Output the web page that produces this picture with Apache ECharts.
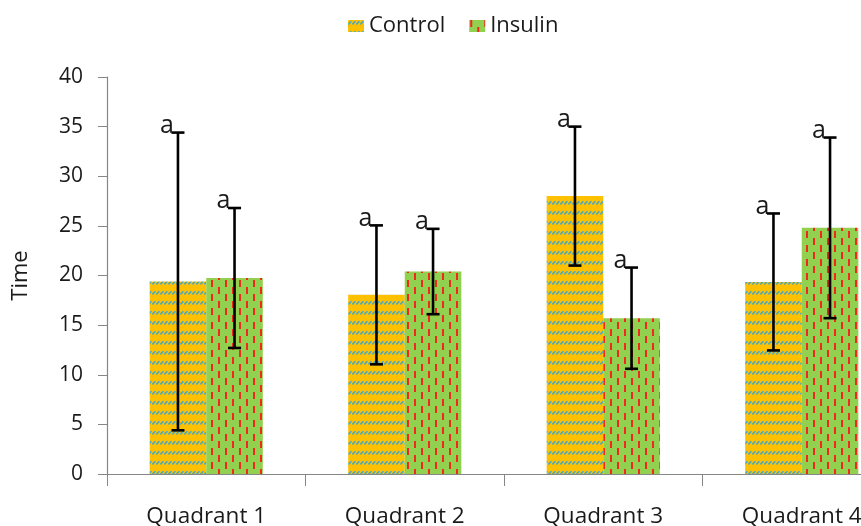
<!DOCTYPE html>
<html>
<head>
<meta charset="utf-8">
<script src="https://cdn.jsdelivr.net/npm/echarts@6/dist/echarts.min.js"></script>
<style>
html,body{margin:0;padding:0;background:#fff;overflow:hidden;}
#chart{width:861px;height:526px;}
</style>
</head>
<body>
<div id="chart"></div>
<script>
// ---- data ----
var categories = ['Quadrant 1', 'Quadrant 2', 'Quadrant 3', 'Quadrant 4'];
var controlValues = [19.4, 18.05, 28.0, 19.35];
var insulinValues = [19.75, 20.4, 15.7, 24.8];
var controlErrors = [15.0, 7.0, 7.0, 6.9];
var insulinErrors = [7.05, 4.3, 5.1, 9.1];
var controlLetters = ['a', 'a', 'a', 'a'];
var insulinLetters = ['a', 'a', 'a', 'a'];
var yTicks = [0, 5, 10, 15, 20, 25, 30, 35, 40];

var FONT = '"Open Sans", "DejaVu Sans", sans-serif';

function controlPattern() {
  var c = document.createElement('canvas');
  c.width = 4; c.height = 10;
  var g = c.getContext('2d');
  g.fillStyle = '#FFC000';
  g.fillRect(0, 0, 4, 10);
  g.strokeStyle = '#45A8C8';
  g.lineWidth = 1.6;
  g.beginPath();
  g.moveTo(0.3, 4.4);
  g.lineTo(3.4, 1.3);
  g.stroke();
  return c;
}
function insulinPattern() {
  var c = document.createElement('canvas');
  c.width = 14; c.height = 14;
  var g = c.getContext('2d');
  g.fillStyle = '#92D050';
  g.fillRect(0, 0, 14, 14);
  g.fillStyle = '#F0281E';
  g.fillRect(1, 0, 2, 7);
  g.fillRect(8, 7, 2, 7);
  return c;
}

var BAR_FRAC = 0.285;

function errSeries(name, means, errs, letters, offsetFrac) {
  return {
    type: 'custom',
    name: name + ' err',
    z: 10,
    silent: true,
    clip: false,
    data: means.map(function (m, i) { return [i, m, errs[i]]; }),
    renderItem: function (params, api) {
      var i = api.value(0), m = api.value(1), e = api.value(2);
      var c = api.coord([i, m]);
      var w = api.size([1, 0])[0];
      var x = c[0] + offsetFrac * w;
      var top = api.coord([i, m + e])[1];
      var bot = api.coord([i, m - e])[1];
      var cap = 6.5;
      var ls = { stroke: '#000', lineWidth: 2.6 };
      return {
        type: 'group',
        children: [
          { type: 'line', shape: { x1: x, y1: top, x2: x, y2: bot }, style: ls },
          { type: 'line', shape: { x1: x - cap, y1: top, x2: x + cap, y2: top }, style: ls },
          { type: 'line', shape: { x1: x - cap, y1: bot, x2: x + cap, y2: bot }, style: ls },
          { type: 'text', style: {
              text: letters[params.dataIndex], x: x - 11, y: top - 7,
              align: 'center', verticalAlign: 'middle',
              font: '25px ' + FONT, fill: '#1a1a1a' } }
        ]
      };
    }
  };
}

var chart = echarts.init(document.getElementById('chart'));
chart.setOption({
  animation: false,
  backgroundColor: '#fff',
  legend: {
    data: ['Control', 'Insulin'],
    top: 10,
    left: 343,
    itemWidth: 16,
    itemHeight: 12,
    itemGap: 24,
    icon: 'rect',
    textStyle: { fontFamily: FONT, fontSize: 22, color: '#1a1a1a' }
  },
  grid: { left: 107, top: 77, width: 794, height: 397, containLabel: false, outerBoundsMode: 'none' },
  xAxis: {
    type: 'category',
    data: categories,
    boundaryGap: true,
    axisLine: { lineStyle: { color: '#868686', width: 1.2 } },
    axisTick: { show: true, length: 12, lineStyle: { color: '#868686' } },
    axisLabel: { fontFamily: FONT, fontSize: 22.5, color: '#1a1a1a', margin: 31 }
  },
  yAxis: {
    type: 'value',
    min: yTicks[0],
    max: yTicks[yTicks.length - 1],
    interval: 5,
    name: 'Time',
    nameLocation: 'middle',
    nameGap: 75,
    nameTextStyle: { fontFamily: FONT, fontSize: 22, color: '#1a1a1a' },
    splitLine: { show: false },
    axisLine: { show: true, lineStyle: { color: '#868686', width: 1.2 } },
    axisTick: { show: true, length: 9, lineStyle: { color: '#868686' } },
    axisLabel: { fontFamily: FONT, fontSize: 21, color: '#1a1a1a', margin: 24 }
  },
  series: [
    {
      name: 'Control', type: 'bar', data: controlValues,
      barWidth: (BAR_FRAC * 100) + '%', barGap: '0%',
      itemStyle: { color: { image: controlPattern(), repeat: 'repeat' } }
    },
    {
      name: 'Insulin', type: 'bar', data: insulinValues,
      barWidth: (BAR_FRAC * 100) + '%', barGap: '0%',
      itemStyle: { color: { image: insulinPattern(), repeat: 'repeat' } }
    },
    errSeries('Control', controlValues, controlErrors, controlLetters, -BAR_FRAC / 2),
    errSeries('Insulin', insulinValues, insulinErrors, insulinLetters, BAR_FRAC / 2)
  ]
});
</script>
</body>
</html>
